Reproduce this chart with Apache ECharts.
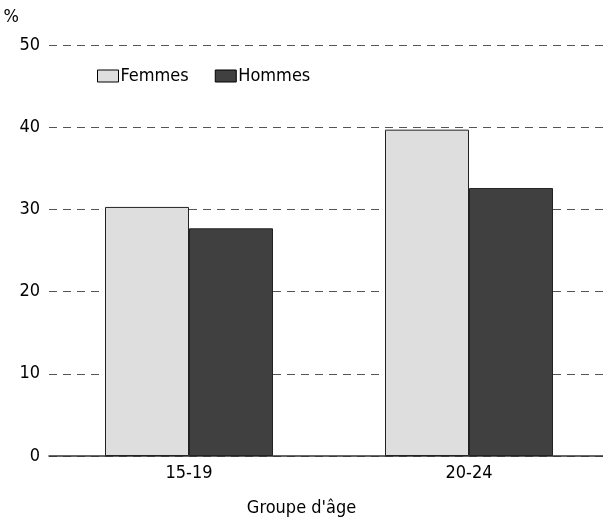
<!DOCTYPE html>
<html>
<head>
<meta charset="utf-8">
<script src="https://cdn.jsdelivr.net/npm/echarts@6/dist/echarts.min.js"></script>
<style>
  html, body { margin: 0; padding: 0; background: #fff; overflow: hidden; width: 603px; height: 522px; }
  #chart { width: 609px; height: 522px; }
</style>
</head>
<body>
<div id="chart"></div>
<script>
// Age groups and share (%) by sex
const ageGroups = ['15-19', '20-24'];
const femmes = [30.3, 39.7];
const hommes = [27.7, 32.6];
const yTicks = [0, 10, 20, 30, 40, 50];

const FONT = '"Liberation Sans Narrow", "Arial Narrow", "DejaVu Sans Condensed", sans-serif';
const FS = 18;

const chart = echarts.init(document.getElementById('chart'));
chart.setOption({
  animation: false,
  backgroundColor: '#ffffff',
  textStyle: { fontFamily: FONT, color: '#000' },
  graphic: [{
    type: 'text',
    x: 301.5,
    y: 499,
    style: {
      text: "Groupe d'âge",
      fontFamily: FONT, fontSize: FS, fill: '#000',
      align: 'center',
      verticalAlign: 'top'
    }
  }],
  legend: {
    left: 92,
    top: 62,
    itemWidth: 21,
    itemHeight: 12,
    itemGap: 26,
    icon: 'rect',
    textStyle: { fontFamily: FONT, fontSize: FS, color: '#000', padding: [0, 0, 0, -3] },
    data: [
      { name: 'Femmes', itemStyle: { color: '#dedede', borderColor: '#000', borderWidth: 1 } },
      { name: 'Hommes', itemStyle: { color: '#404040', borderColor: '#000', borderWidth: 1 } }
    ]
  },
  grid: { left: 49, right: 0, top: 45, bottom: 66, containLabel: false },
  xAxis: {
    type: 'category',
    data: ageGroups,
    axisTick: { show: false },
    axisLine: { show: true, lineStyle: { color: '#333', width: 1.5 } },
    axisLabel: { fontFamily: FONT, fontSize: FS, color: '#000', margin: 8 }
  },
  yAxis: {
    type: 'value',
    min: yTicks[0],
    max: yTicks[yTicks.length - 1],
    interval: 10,
    name: '%',
    nameLocation: 'end',
    nameGap: 19,
    nameTextStyle: { fontFamily: FONT, fontSize: FS, color: '#000', align: 'right', padding: [0, 30, 0, 0] },
    axisLine: { show: false },
    axisTick: { show: false },
    axisLabel: { fontFamily: FONT, fontSize: FS, color: '#000', margin: 9 },
    splitLine: { show: true, lineStyle: { color: '#555', type: [8, 6], width: 1.2 } }
  },
  series: [
    {
      name: 'Femmes',
      type: 'bar',
      data: femmes,
      barGap: '0%',
      barCategoryGap: '40%',
      itemStyle: { color: '#dedede', borderColor: '#222', borderWidth: 1 }
    },
    {
      name: 'Hommes',
      type: 'bar',
      data: hommes,
      itemStyle: { color: '#404040', borderColor: '#222', borderWidth: 1 }
    }
  ]
});
</script>
</body>
</html>
